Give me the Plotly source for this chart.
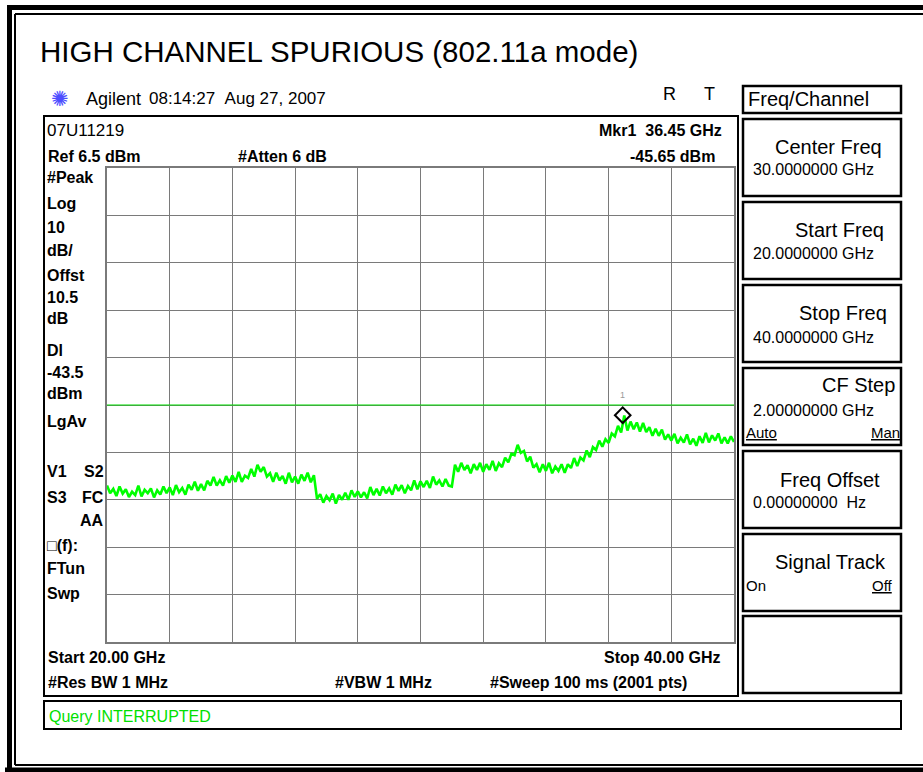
import numpy as np
import plotly.graph_objects as go

# sweep settings
start_ghz = 20.0
stop_ghz = 40.0
ref_dbm = 6.5
db_per_div = 10
display_line_dbm = -43.5
marker_ghz = 36.45
marker_dbm = -45.65

# trace, one value every 0.1 GHz (dBm)
trace_dbm = [
    -60.5, -62.1, -61.2, -62.7, -60.7, -62.2, -61.3, -62.9, -61.8, -62.5,
    -60.5, -62.8, -61.4, -62.1, -61.1, -63.0, -61.5, -62.4, -60.7, -62.1,
    -60.9, -62.5, -60.4, -61.9, -61.0, -62.4, -60.3, -61.4, -59.7, -61.6,
    -60.2, -61.5, -59.5, -60.5, -58.7, -60.5, -59.4, -60.5, -58.5, -59.9,
    -58.4, -59.7, -57.6, -59.7, -58.4, -58.9, -57.0, -58.6, -56.1, -57.6,
    -56.6, -58.6, -57.9, -59.7, -57.8, -59.4, -58.5, -60.1, -57.8, -59.8,
    -58.6, -60.1, -58.2, -59.5, -57.8, -59.8, -58.3,
    -63.3, -62.3, -64.1, -62.7, -63.6, -62.2, -64.3, -62.5, -63.5, -62.0, -63.5, -61.5, -62.9,
    -61.7, -63.0, -61.9, -63.2, -60.8, -62.5, -61.2, -62.6, -60.7, -62.1,
    -61.1, -62.4, -60.3, -61.6, -60.4, -62.1, -60.6, -61.5, -59.4, -61.3,
    -59.6, -60.8, -59.5, -61.0, -58.6, -60.3, -59.4, -60.7, -59.1, -60.5,
    -60.7, -56.1, -57.6, -55.7, -57.2, -56.2, -57.9, -56.0, -57.2, -55.7,
    -57.6, -56.0, -57.2, -55.3, -57.4, -55.8, -56.6, -54.6, -55.6, -53.8,
    -54.1, -51.9, -53.6, -53.2, -55.4, -54.4, -56.7, -56.0, -57.7, -56.0,
    -57.4, -55.7, -57.9, -56.5, -57.4, -56.0, -57.8, -56.0, -56.8, -54.7,
    -56.4, -54.6, -55.2, -53.1, -54.5, -52.4, -53.0, -51.0, -52.3, -50.7,
    -51.5, -49.5, -50.1, -47.9, -49.3, -45.7, -48.9, -47.0, -48.6, -47.2,
    -49.1, -47.3, -49.2, -48.2, -50.0, -48.5, -50.0, -48.7, -50.8, -49.7,
    -51.0, -49.6, -51.6, -50.4, -51.4, -49.7, -51.8, -50.6, -52.1, -50.1,
    -51.5, -49.4, -51.4, -49.9, -51.0, -49.5, -51.6, -50.3, -51.6, -50.1,
    -51.3,
]

left_labels = ["#Peak", "Log", "10", "dB/", "Offst", "10.5", "dB", "Dl",
               "-43.5", "dBm", "LgAv", "V1", "S3", "\u25a1(f):", "FTun", "Swp"]
left_label_y = [178, 203, 227, 250, 275, 297, 318, 350,
                372, 393, 421, 472, 497, 545, 568, 593]

softkey_names = ["Center Freq", "Start Freq", "Stop Freq", "CF Step",
                 "Freq Offset", "Signal Track"]
softkey_values = ["30.0000000 GHz", "20.0000000 GHz", "40.0000000 GHz",
                  "2.00000000 GHz", "0.00000000\u00a0\u00a0Hz", ""]

freqs = np.linspace(start_ghz, stop_ghz, len(trace_dbm))

# ── page geometry (pixels) ───────────────────────────────────────────────────
W, H = 923, 772
GL, GR, GT, GB = 107, 734, 168, 642
FONT = "Liberation Sans, Arial, sans-serif"


def px(x):
    return (x - GL) / (GR - GL)


def py(y):
    return (GB - y) / (GB - GT)


shapes = []
annotations = []


def rect(x0, y0, x1, y1, width=2, color="black"):
    shapes.append(dict(type="rect", xref="paper", yref="paper",
                       x0=px(x0), x1=px(x1), y0=py(y0), y1=py(y1),
                       line=dict(color=color, width=width)))


def line(x0, y0, x1, y1, width=2, color="black"):
    shapes.append(dict(type="line", xref="paper", yref="paper",
                       x0=px(x0), x1=px(x1), y0=py(y0), y1=py(y1),
                       line=dict(color=color, width=width)))


def label(x, y, text, anchor="left", size=16, bold=False, color="black"):
    if bold:
        text = f"<b>{text}</b>"
    annotations.append(dict(x=px(x), y=py(y), xref="paper", yref="paper",
                            text=text, showarrow=False, xanchor=anchor,
                            yanchor="middle", borderpad=0,
                            font=dict(family=FONT, size=size, color=color)))


# outer frame (right side is cut off in the screenshot)
line(7, 7.5, 930, 7.5, width=5)
line(9.5, 5, 9.5, 780, width=5)
line(5, 770, 930, 770, width=5)
line(15, 14, 930, 14, width=2)
line(15, 14, 15, 765, width=2)
line(15, 765, 930, 765, width=2)

# screen boxes
rect(44, 116, 738, 696)
rect(44, 701, 901, 729)
rect(743, 86, 901, 113, width=2.5)
box_tops = [119, 202, 285, 368, 451, 534, 616]
for top in box_tops:
    rect(743, top, 901, top + 77, width=2.5)

# headline texts
label(39, 51, "HIGH CHANNEL SPURIOUS (802.11a mode)", size=29.5)
label(60, 98, "\u273a", anchor="center", size=21, color="#4d4dff")
label(85, 99, "Agilent", size=18)
label(148, 99, "08:14:27\u00a0\u00a0Aug 27, 2007", size=17)
label(669, 94, "R", anchor="center", size=18)
label(709, 94, "T", anchor="center", size=18)
label(747, 99, "Freq/Channel", size=20)

# annotation texts inside the screen
label(46, 130, "07U11219", size=17)
label(47, 157, "Ref 6.5 dBm", bold=True)
label(237, 157, "#Atten 6 dB", bold=True)
label(723, 131, "Mkr1\u00a0\u00a036.45 GHz", anchor="right", bold=True)
label(716, 157, "-45.65 dBm", anchor="right", bold=True)
for txt, yy in zip(left_labels, left_label_y):
    label(46, yy, txt, size=16, bold=True)
label(105, 472, "S2", anchor="right", size=16, bold=True)
label(105, 497, "FC", anchor="right", size=16, bold=True)
label(105, 520, "AA", anchor="right", size=16, bold=True)
label(47, 657, "Start 20.00 GHz", bold=True)
label(721, 657, "Stop 40.00 GHz", anchor="right", bold=True)
label(47, 682, "#Res BW 1 MHz", bold=True)
label(334, 682, "#VBW 1 MHz", bold=True)
label(489, 682, "#Sweep 100 ms (2001 pts)", bold=True)
label(48, 716, "Query INTERRUPTED", size=16, color="#00e000")

# softkey texts
title_right = [883, 885, 888, 896, 881, 887]
title_y = [147, 230, 313, 385, 480, 562]
value_y = [170, 253, 337, 410, 503, 0]
for name, value, xr, ty, vy in zip(softkey_names, softkey_values,
                                   title_right, title_y, value_y):
    label(xr, ty, name, anchor="right", size=20)
    if value:
        label(752, vy, value, size=16)
label(745, 432, "<u>Auto</u>", size=15)
label(901, 432, "<u>Man</u>", anchor="right", size=15)
label(745, 585, "On", size=15)
label(894, 585, "<u>Off</u>", anchor="right", size=15)

# ── figure ───────────────────────────────────────────────────────────────────
fig = go.Figure()
fig.add_trace(go.Scatter(
    x=[start_ghz, stop_ghz], y=[display_line_dbm, display_line_dbm],
    mode="lines", line=dict(color="#00dd00", width=1.2), hoverinfo="skip",
))
fig.add_trace(go.Scatter(
    x=freqs, y=trace_dbm, mode="lines",
    line=dict(color="#00ff00", width=2.6),
))
fig.add_trace(go.Scatter(
    x=[marker_ghz], y=[marker_dbm], mode="markers",
    marker=dict(symbol="diamond-open", size=12, color="black",
                line=dict(width=2, color="black")),
))
annotations.append(dict(x=marker_ghz, y=marker_dbm, xref="x", yref="y",
                        text="1", showarrow=False, yshift=20,
                        font=dict(family=FONT, size=9, color="#999999")))

bottom_dbm = ref_dbm - 10 * db_per_div
fig.update_layout(
    width=W, height=H,
    margin=dict(l=GL, r=W - GR, t=GT, b=H - GB, pad=0),
    paper_bgcolor="white", plot_bgcolor="white",
    showlegend=False,
    shapes=shapes, annotations=annotations,
    xaxis=dict(range=[start_ghz, stop_ghz], tick0=start_ghz, dtick=2,
               showgrid=True, gridcolor="#7a7a7a", gridwidth=1,
               showticklabels=False, ticks="", zeroline=False,
               showline=True, linecolor="#7a7a7a", linewidth=2, mirror=True),
    yaxis=dict(range=[bottom_dbm, ref_dbm], tick0=ref_dbm, dtick=db_per_div,
               showgrid=True, gridcolor="#7a7a7a", gridwidth=1,
               showticklabels=False, ticks="", zeroline=False,
               showline=True, linecolor="#7a7a7a", linewidth=2, mirror=True),
)

# drop the browser's default 8px body margin so the page lines up
fig.write_html("out.html", config={"displayModeBar": False},
               post_script="document.body.style.margin = '0';")
